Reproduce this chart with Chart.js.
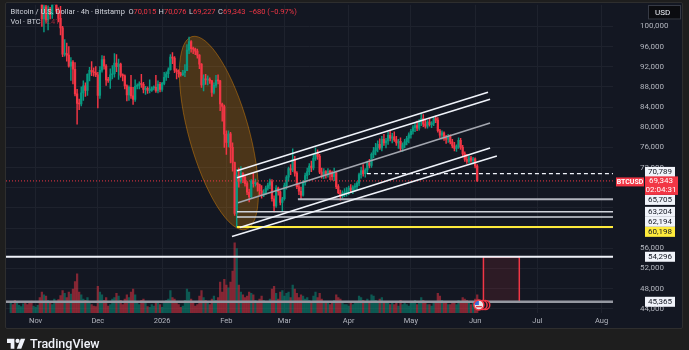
<!DOCTYPE html>
<html>
<head>
<meta charset="utf-8">
<script src="https://cdn.jsdelivr.net/npm/chart.js@4.4.1/dist/chart.umd.min.js"></script>
<style>
  html, body { margin: 0; padding: 0; width: 689px; height: 350px; overflow: hidden; background: #1e1e1e; }
  #panel { position: absolute; left: 5px; top: 2px; width: 678px; height: 327px; background: #131722; border: 1px solid #2e2e2e; box-sizing: border-box; border-radius: 2px; }
  #chart { position: absolute; left: 0; top: 0; }
  #brand { position: absolute; left: 7px; top: 336px; height: 14px; display: flex; align-items: center; color: #f0f3fa; font: 500 12.5px Roboto, sans-serif; }
  #brand svg { margin-right: 4px; }
</style>
</head>
<body>
<div id="panel"></div>
<canvas id="chart" width="689" height="350"></canvas>
<div id="brand">
  <svg width="19" height="12" viewBox="0 0 36 22"><path d="M14 22H7V11H0V3h14v19z" fill="#f0f3fa"/><circle cx="20" cy="7" r="4" fill="#f0f3fa"/><path d="M27 22h-8.5L26 3h8.5L27 22z" fill="#f0f3fa"/></svg>
  <span>TradingView</span>
</div>
<script>
// x axis: days counted from 1 Nov 2025
const monthDays = [0, 30, 61, 92, 120, 151, 181, 212, 242, 273];
const monthLabels = ['Nov', 'Dec', '2026', 'Feb', 'Mar', 'Apr', 'May', 'Jun', 'Jul', 'Aug'];
const priceTicks = [44, 48, 52, 56, 60, 64, 68, 72, 76, 80, 84, 88, 92, 96, 100];
// tick labels hidden behind the price tags
const hiddenTicks = [60, 64, 68];

// daily candles (thousand USD), first candle = 20 Oct 2025
const firstDay = -12;
const firstOpen = 108.6;
const closes = [
  110.5, 108.4, 107.6, 110.1, 111.0, 111.6, 114.5, 114.1, 112.9, 110.0, 108.3, 109.6,
  110.1, 110.6, 106.5, 101.5, 103.9, 101.3, 103.4, 102.3, 104.7, 106.0,
  103.0, 101.6, 99.7, 94.5, 94.6, 94.3, 92.1, 92.9, 91.5, 86.6,
  84.7, 84.6, 86.8, 88.2, 87.3, 90.5, 91.3, 91.0, 90.8, 90.4,
  86.3, 91.3, 93.4, 92.1, 89.4, 89.3, 90.4, 90.6, 92.7, 92.0,
  92.5, 90.3, 90.2, 88.2, 86.4, 87.9, 86.2, 85.5, 88.1, 88.3,
  88.6, 88.5, 87.5, 87.7, 87.3, 87.3, 87.8, 87.9, 87.2, 88.5,
  87.5, 88.7, 89.9, 90.6, 91.4, 93.9, 93.7, 91.3, 91.0, 90.6,
  90.4, 90.8, 91.2, 95.3, 97.0, 95.6, 95.5, 95.1, 94.3, 92.5,
  88.4, 89.6, 89.4, 89.5, 89.2, 86.9, 88.3, 89.3, 89.2, 84.6,
  84.1, 78.6, 77.0, 78.7, 76.0, 73.0, 62.9, 70.5, 69.3, 70.8,
  70.1, 68.8, 67.1, 66.2, 69.3, 68.8, 68.9, 68.6, 67.4, 66.5,
  67.0, 67.9, 68.5, 69.2, 65.8, 64.4, 67.9, 67.2, 65.1, 65.8,
  68.4, 70.1, 71.8, 71.5, 73.6, 70.9, 68.2, 67.3, 66.5, 69.0,
  70.4, 71.2, 72.3, 71.9, 73.8, 74.8, 74.2, 71.1, 70.4, 71.2,
  70.6, 71.3, 71.0, 70.2, 71.0, 68.2, 67.0, 66.3, 66.9, 67.1,
  67.4, 67.9, 67.5, 68.1, 68.2, 68.9, 70.6, 71.4, 70.8, 71.5,
  72.9, 72.4, 74.6, 75.3, 75.9, 76.6, 75.9, 77.6, 76.9, 77.3,
  78.4, 77.8, 78.1, 77.5, 76.9, 77.2, 75.8, 76.5, 77.1, 77.8,
  78.5, 79.2, 79.9, 80.3, 79.8, 81.1, 81.7, 80.6, 80.2, 81.0,
  80.5, 80.8, 81.7, 81.4, 79.3, 78.4, 78.9, 77.8, 77.6, 78.2,
  77.1, 76.3, 75.8, 76.1, 77.4, 76.0, 74.7, 73.6, 73.2, 73.9,
  73.4, 73.7, 72.3, 69.343
];
const highs = [
  111.8, 111.2, 109.1, 110.9, 111.9, 112.1, 115.4, 116.1, 115.0, 113.6, 111.2, 111.1,
  111.2, 111.1, 110.9, 106.7, 104.5, 104.2, 104.1, 103.8, 105.0, 106.7,
  106.4, 103.7, 104.0, 100.0, 97.4, 96.7, 96.0, 93.8, 93.2, 92.8,
  87.5, 85.6, 88.0, 89.2, 88.8, 90.6, 91.9, 93.0, 91.8, 92.0,
  90.9, 92.0, 94.2, 94.1, 92.4, 89.9, 91.6, 92.2, 94.6, 94.4,
  93.5, 92.7, 90.6, 90.4, 88.4, 88.2, 90.3, 87.9, 89.4, 88.6,
  89.0, 90.5, 88.9, 88.1, 88.0, 89.4, 88.0, 88.2, 90.3, 89.2,
  88.9, 88.9, 90.9, 91.0, 91.8, 94.4, 94.8, 94.0, 91.6, 91.4,
  90.9, 91.3, 92.4, 96.4, 97.9, 97.2, 95.9, 95.7, 95.5, 94.4,
  92.6, 90.4, 90.5, 90.2, 89.8, 89.3, 88.8, 90.3, 90.4, 89.3,
  84.8, 84.4, 79.3, 79.3, 79.0, 76.9, 73.1, 71.6, 71.9, 72.2,
  71.0, 70.5, 69.2, 67.7, 69.6, 70.9, 69.7, 69.0, 68.7, 68.4,
  67.6, 68.3, 68.9, 69.7, 69.6, 66.4, 68.4, 68.1, 67.4, 66.1,
  68.9, 70.4, 72.1, 72.6, 75.7, 74.2, 71.2, 68.9, 68.1, 69.4,
  70.9, 71.9, 72.8, 73.3, 74.5, 75.9, 75.5, 74.6, 71.9, 71.8,
  71.4, 71.8, 71.5, 71.3, 71.9, 71.3, 68.6, 67.5, 67.4, 67.8,
  68.0, 68.3, 68.6, 68.4, 68.8, 69.2, 70.9, 72.1, 72.6, 71.8,
  73.3, 73.6, 74.9, 76.0, 76.8, 77.3, 77.7, 78.2, 78.6, 77.8,
  79.0, 79.2, 78.8, 79.1, 78.2, 77.6, 77.9, 76.9, 77.6, 78.2,
  78.9, 79.6, 80.3, 80.8, 81.2, 81.5, 82.6, 82.5, 81.4, 81.3,
  81.6, 81.1, 82.0, 82.2, 81.9, 79.6, 79.3, 79.1, 78.4, 78.6,
  78.5, 77.6, 77.0, 76.5, 77.9, 77.8, 76.4, 75.1, 74.6, 74.3,
  74.2, 74.0, 73.9, 72.6
];
const lows = [
  108.2, 107.5, 106.8, 107.6, 109.3, 110.7, 111.3, 113.2, 112.3, 109.3, 106.4, 108.0,
  109.3, 109.6, 105.4, 100.0, 98.9, 100.8, 99.3, 101.5, 101.6, 104.3,
  102.6, 100.9, 98.3, 94.0, 94.1, 93.1, 91.9, 89.3, 88.6, 86.2,
  80.6, 83.5, 84.2, 85.3, 86.1, 86.3, 89.2, 90.2, 90.1, 90.0,
  83.8, 85.7, 90.9, 91.5, 88.3, 88.9, 87.7, 89.6, 89.9, 91.0,
  89.5, 89.9, 89.2, 87.6, 85.2, 85.3, 85.7, 84.5, 85.1, 87.6,
  87.6, 87.9, 86.8, 86.5, 86.7, 86.8, 87.1, 87.4, 86.9, 86.8,
  87.0, 87.1, 88.4, 89.3, 89.8, 91.3, 92.6, 90.8, 89.6, 89.9,
  90.1, 90.2, 90.0, 91.2, 94.6, 94.9, 94.6, 94.4, 93.7, 91.6,
  87.9, 87.2, 88.5, 88.4, 88.7, 86.1, 86.6, 87.9, 88.6, 83.3,
  81.2, 76.0, 74.6, 76.1, 72.9, 71.3, 62.5, 60.2, 68.1, 68.9,
  69.0, 68.3, 66.6, 65.2, 65.9, 68.1, 68.3, 67.3, 66.6, 65.9,
  66.2, 66.6, 67.5, 67.8, 65.3, 63.2, 64.1, 66.5, 64.6, 63.3,
  65.5, 67.7, 69.3, 70.6, 71.2, 70.3, 67.8, 66.6, 65.7, 66.3,
  68.5, 69.7, 70.6, 71.2, 71.5, 73.4, 73.6, 70.8, 69.9, 69.8,
  69.9, 70.1, 69.6, 69.5, 69.4, 67.8, 66.8, 65.5, 65.9, 66.2,
  66.3, 66.6, 67.0, 66.8, 67.3, 67.6, 68.4, 69.9, 70.3, 70.1,
  70.8, 71.9, 72.0, 73.9, 74.5, 75.1, 75.6, 75.3, 76.4, 75.9,
  76.6, 77.3, 76.9, 77.2, 76.4, 75.8, 75.3, 75.2, 75.9, 76.5,
  76.9, 77.8, 78.6, 79.1, 79.3, 79.4, 80.3, 80.1, 79.8, 79.8,
  80.2, 79.9, 80.3, 80.9, 79.0, 77.9, 77.6, 77.4, 76.8, 77.0,
  76.7, 75.9, 75.3, 75.2, 75.8, 75.6, 74.3, 73.2, 72.8, 72.9,
  73.0, 72.7, 71.9, 69.227
];
const volumes = [
  14, 12, 18, 15, 11, 9, 13, 16, 12, 15, 17, 10,
  8, 11, 22, 30, 26, 24, 18, 15, 12, 20,
  17, 19, 25, 32, 28, 22, 30, 27, 34, 45,
  56, 30, 26, 20, 18, 22, 15, 12, 10, 9,
  38, 30, 26, 18, 22, 10, 12, 20, 22, 28,
  24, 18, 12, 20, 26, 22, 30, 34, 26, 14,
  12, 18, 20, 14, 9, 8, 12, 10, 16, 14,
  12, 8, 14, 18, 20, 32, 22, 20, 16, 12,
  8, 10, 18, 34, 30, 20, 14, 10, 12, 24,
  32, 22, 18, 14, 12, 20, 24, 18, 22, 44,
  30, 48, 40, 36, 44, 60, 100, 92, 40, 30,
  26, 22, 24, 30, 28, 26, 18, 14, 20, 24,
  18, 16, 14, 20, 34, 38, 28, 20, 30, 32,
  24, 28, 30, 22, 40, 34, 28, 22, 26, 24,
  20, 22, 18, 16, 24, 30, 22, 28, 20, 16,
  14, 16, 12, 14, 18, 26, 22, 20, 14, 12,
  12, 10, 14, 12, 14, 16, 24, 22, 18, 14,
  20, 16, 26, 24, 18, 16, 20, 22, 16, 14,
  14, 12, 16, 12, 14, 10, 18, 12, 14, 12,
  10, 16, 14, 18, 12, 16, 22, 18, 14, 12,
  12, 10, 14, 16, 28, 24, 18, 14, 16, 12,
  12, 14, 16, 12, 18, 14, 22, 20, 18, 14,
  12, 14, 20, 26
];

// drawings: horizontal levels (price, first day)
const levelPrices = [70.789, 65.705, 63.204, 62.194, 60.198, 54.296, 45.365];
const levelFrom = [159.8, 126.5, 97.1, 97.1, 97.1, -15, -15];
const lastPrice = 69.343;
// channel lines: [day, price] -> [day, price]
const channelFrom = [[97.1, 71.34], [97.1, 69.96], [97.6, 65.03], [98.5, 60.10], [94.7, 58.33]];
const channelTo = [[218.2, 86.92], [219.2, 85.54], [219.2, 80.81], [219.2, 75.88], [222.5, 74.30]];
// ellipse (top and bottom points of its long axis), box zone
const ellipseTop = [75.4, 97.97];
const ellipseBottom = [101.4, 59.71];
const zoneDays = [216, 233.3];
const zonePrices = [45.365, 54.296];
const eventDays = [213.8, 215.6, 216.9];

const X_MIN = -14.3, X_MAX = 278.5;
const UP = '#089981', DOWN = '#f23645';

const candles = closes.map((c, i) => ({
  d: firstDay + i,
  o: i === 0 ? firstOpen : closes[i - 1],
  h: highs[i], l: lows[i], c: c, v: volumes[i]
}));
const candleColors = candles.map(k => k.c >= k.o ? UP : DOWN);
const volColors = candles.map(k => k.c >= k.o ? 'rgba(8,153,129,0.5)' : 'rgba(242,54,69,0.5)');

const fmt = v => Math.round(v * 1000).toLocaleString('en-US');

function lineSet(points, color, width, dash, order) {
  return {
    type: 'line', data: points, borderColor: color, borderWidth: width,
    borderDash: dash || [], pointRadius: 0, fill: false, tension: 0,
    yAxisID: 'y', order: order
  };
}

const datasets = [];
channelFrom.forEach((p, i) => {
  const col = i === 2 ? '#a3a6af' : '#f0f3fa';
  datasets.push(lineSet([{ x: p[0], y: p[1] }, { x: channelTo[i][0], y: channelTo[i][1] }], col, 1.6, null, 0));
});
const levelColors = ['#f0f3fa', '#b2b5be', '#d1d4dc', '#d1d4dc', '#ffeb3b', '#f0f3fa', '#9598a1'];
const levelWidths = [1.2, 2, 1.5, 1.5, 2, 1.8, 2.5];
levelPrices.forEach((p, i) => {
  datasets.push(lineSet([{ x: levelFrom[i], y: p }, { x: X_MAX, y: p }], levelColors[i], levelWidths[i], i === 0 ? [4, 3] : null, 0));
});
datasets.push(lineSet([{ x: X_MIN, y: lastPrice }, { x: X_MAX, y: lastPrice }], '#f23645', 1, [1, 2], 1));

datasets.push({
  type: 'bar', data: candles.map(k => ({ x: k.d, y: [k.o, k.c] })),
  backgroundColor: candleColors, barThickness: 1.6, minBarLength: 1, grouped: false, yAxisID: 'y', order: 2
});
datasets.push({
  type: 'bar', data: candles.map(k => ({ x: k.d, y: [k.l, k.h] })),
  backgroundColor: candleColors, barThickness: 0.8, grouped: false, yAxisID: 'y', order: 3
});
datasets.push({
  type: 'bar', data: candles.map(k => ({ x: k.d, y: k.v })),
  backgroundColor: volColors, barThickness: 1.6, grouped: false, yAxisID: 'yv', order: 5
});

function box(ctx, x, y, w, h, bg, text, color, font) {
  ctx.fillStyle = bg;
  ctx.fillRect(x, y - h / 2, w, h);
  ctx.fillStyle = color;
  ctx.font = font;
  ctx.textAlign = 'center';
  ctx.textBaseline = 'middle';
  ctx.fillText(text, x + w / 2, y + 0.5);
}

const overlay = {
  id: 'overlay',
  beforeDatasetsDraw(chart) {
    const { ctx, chartArea: a, scales: { x, y } } = chart;
    ctx.save();
    ctx.beginPath();
    ctx.rect(a.left, a.top, a.right - a.left, a.bottom - a.top);
    ctx.clip();
    // ellipse
    const x1 = x.getPixelForValue(ellipseTop[0]), y1 = y.getPixelForValue(ellipseTop[1]);
    const x2 = x.getPixelForValue(ellipseBottom[0]), y2 = y.getPixelForValue(ellipseBottom[1]);
    const r = Math.hypot(x2 - x1, y2 - y1) / 2;
    ctx.beginPath();
    ctx.ellipse((x1 + x2) / 2, (y1 + y2) / 2, r, r * 0.3, Math.atan2(y2 - y1, x2 - x1), 0, Math.PI * 2);
    ctx.fillStyle = 'rgba(255,152,0,0.24)';
    ctx.fill();
    ctx.strokeStyle = 'rgba(255,152,0,0.4)';
    ctx.lineWidth = 1;
    ctx.stroke();
    // zone box
    const bx1 = x.getPixelForValue(zoneDays[0]), bx2 = x.getPixelForValue(zoneDays[1]);
    const by1 = y.getPixelForValue(zonePrices[1]), by2 = y.getPixelForValue(zonePrices[0]);
    ctx.fillStyle = 'rgba(242,54,69,0.12)';
    ctx.fillRect(bx1, by1, bx2 - bx1, by2 - by1);
    ctx.strokeStyle = '#f23645';
    ctx.lineWidth = 1.5;
    ctx.strokeRect(bx1, by1, bx2 - bx1, by2 - by1);
    ctx.restore();
  },
  afterDraw(chart) {
    const { ctx, chartArea: a, scales: { x, y } } = chart;
    ctx.save();
    // events
    const ey = a.bottom - 8;
    [eventDays[2], eventDays[1]].forEach(d => {
      ctx.beginPath();
      ctx.arc(x.getPixelForValue(d), ey, 4.5, 0, Math.PI * 2);
      ctx.fillStyle = '#131722';
      ctx.fill();
      ctx.strokeStyle = '#f23645';
      ctx.lineWidth = 1.5;
      ctx.stroke();
    });
    const fx = x.getPixelForValue(eventDays[0]);
    ctx.beginPath();
    ctx.arc(fx, ey, 5, 0, Math.PI * 2);
    ctx.fillStyle = '#e8e8e8';
    ctx.fill();
    ctx.fillStyle = '#3c6fd8';
    ctx.fillRect(fx - 4, ey - 4, 4, 4);
    ctx.fillStyle = '#d93a45';
    ctx.fillRect(fx - 3, ey + 1, 6, 1.3);
    ctx.strokeStyle = '#f23645';
    ctx.lineWidth = 1.5;
    ctx.beginPath();
    ctx.arc(fx, ey, 5, 0, Math.PI * 2);
    ctx.stroke();

    // price scale labels
    const f = '8px Roboto, sans-serif';
    const yp = y.getPixelForValue(lastPrice);
    const bx = 645, bw = 30;
    let prev = yp + 14;
    levelPrices.forEach((p, i) => {
      let ly = y.getPixelForValue(p);
      if (p > lastPrice) {
        ly = Math.min(ly, yp - 9);
      } else {
        ly = Math.max(ly, prev + 5);
        prev = ly + 5;
      }
      box(ctx, bx, ly, bw, 10, i === 4 ? '#ffeb3b' : '#f0f3fa', fmt(p), '#131722', f);
    });
    ctx.fillStyle = '#f23645';
    ctx.fillRect(bx, yp - 4.5, bw + 3, 18.5);
    ctx.fillStyle = '#ffffff';
    ctx.font = f;
    ctx.textAlign = 'center';
    ctx.textBaseline = 'middle';
    ctx.fillText(fmt(lastPrice), bx + bw / 2 + 1, yp + 0.5);
    ctx.fillText('02:04:31', bx + bw / 2 + 1, yp + 9);
    box(ctx, 616, yp + 1, 28, 9, '#f23645', 'BTCUSD', '#ffffff', 'bold 7px Roboto, sans-serif');

    // currency button
    ctx.fillStyle = '#0b0c10';
    ctx.fillRect(648, 5.5, 33, 14);
    ctx.strokeStyle = '#363a45';
    ctx.lineWidth = 1;
    ctx.strokeRect(648.5, 5.5, 32, 13.5);
    ctx.fillStyle = '#f0f3fa';
    ctx.font = '8px Roboto, sans-serif';
    ctx.textAlign = 'left';
    ctx.fillText('USD', 655, 12.5);

    // legend header
    ctx.textBaseline = 'alphabetic';
    ctx.font = '7.5px Roboto, sans-serif';
    let tx = 10.5;
    const seg = (t, c, gap) => { ctx.fillStyle = c; ctx.fillText(t, tx, 14); tx += ctx.measureText(t).width + (gap || 0); };
    seg('Bitcoin / U.S. Dollar · 4h · Bitstamp', '#d1d4dc', 3.5);
    seg('O', '#d1d4dc'); seg('70,015', DOWN, 2.5);
    seg('H', '#d1d4dc'); seg('70,076', DOWN, 2.5);
    seg('L', '#d1d4dc'); seg('69,227', DOWN, 2.5);
    seg('C', '#d1d4dc'); seg('69,343', DOWN, 3);
    seg('−680 (−0.97%)', DOWN);
    tx = 10.5;
    ctx.fillStyle = '#d1d4dc';
    ctx.fillText('Vol · BTC', tx, 24);
    ctx.fillStyle = 'rgba(242,54,69,0.6)';
    ctx.fillText('2.41', tx + ctx.measureText('Vol · BTC').width + 4, 24);
    ctx.restore();
  }
};

Chart.defaults.font.family = 'Roboto, sans-serif';
new Chart(document.getElementById('chart'), {
  type: 'bar',
  data: { datasets: datasets },
  options: {
    responsive: false,
    animation: false,
    layout: { padding: { left: 6, top: 3, right: 6, bottom: 21 } },
    plugins: { legend: { display: false }, tooltip: { enabled: false } },
    scales: {
      x: {
        type: 'linear', min: X_MIN, max: X_MAX, offset: false,
        afterBuildTicks: s => { s.ticks = monthDays.map(v => ({ value: v })); },
        afterFit: s => { s.height = 16; },
        ticks: {
          autoSkip: false, maxRotation: 0, padding: 4, color: '#b2b5be',
          font: { size: 7.5 }, callback: (v, i) => monthLabels[i]
        },
        grid: { color: '#1e222d', drawTicks: false, offset: false },
        border: { display: false }
      },
      y: {
        position: 'right', min: 43.14, max: 104.28,
        afterBuildTicks: s => { s.ticks = priceTicks.map(v => ({ value: v })); },
        afterFit: s => { s.width = 70; },
        ticks: { padding: 0, color: '#b2b5be', font: { size: 8 }, callback: v => hiddenTicks.includes(v) ? '' : fmt(v) },
        grid: { color: '#1e222d', drawTicks: true, tickLength: 27, tickColor: 'rgba(0,0,0,0)' },
        border: { display: false }
      },
      yv: { display: false, min: 0, max: 440 }
    }
  },
  plugins: [overlay]
});
</script>
</body>
</html>
